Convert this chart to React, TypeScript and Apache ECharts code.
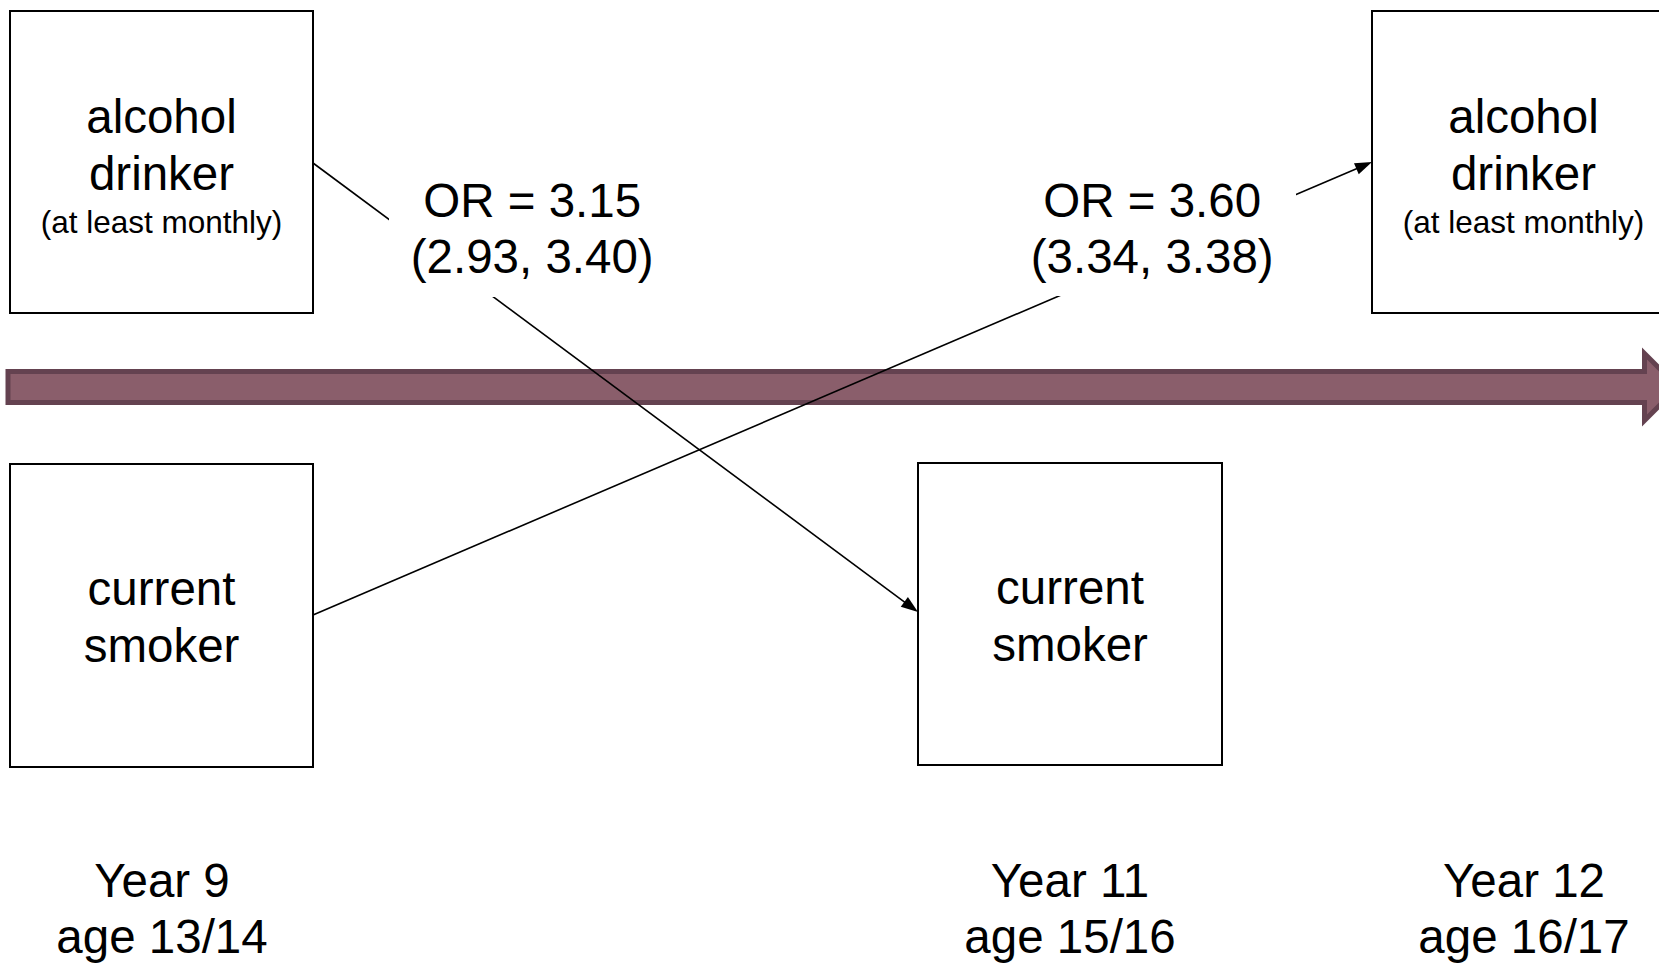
import React, { useEffect, useRef } from "react";
import * as echarts from "echarts";

// ---- content ----
const boxTitles = [
  ["alcohol", "drinker"],
  ["current", "smoker"],
  ["current", "smoker"],
  ["alcohol", "drinker"],
];
const boxNotes = ["(at least monthly)", "", "", "(at least monthly)"];
const oddsRatios = ["OR = 3.15", "OR = 3.60"];
const confIntervals = ["(2.93, 3.40)", "(3.34, 3.38)"];
const waveLabels = ["Year 9", "Year 11", "Year 12"];
const ageLabels = ["age 13/14", "age 15/16", "age 16/17"];

// ---- layout (diagram units = pixels of the 1659x963 canvas) ----
const W = 1659;
const H = 963;
const boxRects = [
  [10, 11, 313, 313],
  [10, 464, 313, 767],
  [918, 463, 1222, 765],
  [1372, 11, 1675, 313],
];
const arrowPaths = [
  [313, 163, 918, 612],
  [313, 615, 1372, 162],
];
const orBoxes = [
  [389, 162, 675, 297],
  [1008, 162, 1296, 296],
];
const waveX = [162, 1070, 1524];
const band = { x0: 8, y0: 371.5, y1: 402.5, headX: 1644.5, headY0: 353.5, headY1: 420.5, tipX: 1678 };

const FONT = '"Liberation Sans", Arial, Helvetica, sans-serif';
const BIG = 47.5;
const SMALL = 31.5;

type T = { x: number; y: number; text: string; size: number };
const texts: T[] = [];
boxRects.forEach((r, i) => {
  const cx = (r[0] + r[2]) / 2;
  const cy = (r[1] + r[3]) / 2;
  if (boxNotes[i]) {
    texts.push({ x: cx, y: cy - 45.3, text: boxTitles[i][0], size: BIG });
    texts.push({ x: cx, y: cy + 11.7, text: boxTitles[i][1], size: BIG });
    texts.push({ x: cx, y: cy + 59.6, text: boxNotes[i], size: SMALL });
  } else {
    texts.push({ x: cx, y: cy - 27, text: boxTitles[i][0], size: BIG });
    texts.push({ x: cx, y: cy + 30, text: boxTitles[i][1], size: BIG });
  }
});
orBoxes.forEach((r, i) => {
  const cx = (r[0] + r[2]) / 2 + 0.2;
  texts.push({ x: cx, y: 200.7, text: oddsRatios[i], size: BIG });
  texts.push({ x: cx, y: 256.7, text: confIntervals[i], size: BIG });
});
waveLabels.forEach((t, i) => {
  texts.push({ x: waveX[i], y: 880.7, text: t, size: BIG });
  texts.push({ x: waveX[i], y: 936.7, text: ageLabels[i], size: BIG });
});

export default function App() {
  const ref = useRef<HTMLDivElement>(null);
  useEffect(() => {
    if (!ref.current) return;
    document.body.style.margin = "0";
    document.body.style.overflow = "hidden";
    const chart = echarts.init(ref.current, undefined, { renderer: "svg" });
    const option: any = {
      animation: false,
      backgroundColor: "#ffffff",
      grid: { left: 0, right: 0, top: 0, bottom: 0 },
      xAxis: { type: "value", min: 0, max: W, show: false },
      yAxis: { type: "value", min: 0, max: H, inverse: true, show: false },
      tooltip: { show: false },
      series: [
        {
          type: "custom",
          name: "timeline",
          z: 1,
          clip: false,
          silent: true,
          data: [[band.x0, band.y0, band.y1, band.headX, band.headY0, band.headY1, band.tipX]],
          renderItem: (params: any, api: any) => {
            const x0 = api.value(0), y0 = api.value(1), y1 = api.value(2);
            const hx = api.value(3), hy0 = api.value(4), hy1 = api.value(5), tx = api.value(6);
            const pts = [
              [x0, y0], [hx, y0], [hx, hy0], [tx, (y0 + y1) / 2], [hx, hy1], [hx, y1], [x0, y1],
            ].map((p) => api.coord(p));
            return {
              type: "polygon",
              shape: { points: pts },
              style: { fill: "#8A5E6B", stroke: "#644250", lineWidth: 5, lineJoin: "miter" },
            };
          },
        },
        {
          type: "custom",
          name: "boxes",
          z: 2,
          clip: false,
          silent: true,
          data: boxRects,
          renderItem: (params: any, api: any) => {
            const a = api.coord([api.value(0), api.value(1)]);
            const b = api.coord([api.value(2), api.value(3)]);
            return {
              type: "rect",
              shape: { x: a[0], y: a[1], width: b[0] - a[0], height: b[1] - a[1] },
              style: { fill: "#ffffff", stroke: "#000000", lineWidth: 2 },
            };
          },
        },
        {
          type: "custom",
          name: "effects",
          z: 3,
          clip: false,
          silent: true,
          data: arrowPaths,
          renderItem: (params: any, api: any) => {
            const a = api.coord([api.value(0), api.value(1)]);
            const b = api.coord([api.value(2), api.value(3)]);
            const dx = b[0] - a[0], dy = b[1] - a[1];
            const len = Math.sqrt(dx * dx + dy * dy);
            const ux = dx / len, uy = dy / len;
            const hl = 17, hw = 6;
            const base = [b[0] - ux * hl, b[1] - uy * hl];
            return {
              type: "group",
              children: [
                {
                  type: "line",
                  shape: { x1: a[0], y1: a[1], x2: base[0] + ux * 2, y2: base[1] + uy * 2 },
                  style: { stroke: "#000000", lineWidth: 1.6 },
                },
                {
                  type: "polygon",
                  shape: {
                    points: [
                      [b[0], b[1]],
                      [base[0] - uy * hw, base[1] + ux * hw],
                      [base[0] + uy * hw, base[1] - ux * hw],
                    ],
                  },
                  style: { fill: "#000000" },
                },
              ],
            };
          },
        },
        {
          type: "custom",
          name: "orMask",
          z: 4,
          clip: false,
          silent: true,
          data: orBoxes,
          renderItem: (params: any, api: any) => {
            const a = api.coord([api.value(0), api.value(1)]);
            const b = api.coord([api.value(2), api.value(3)]);
            return {
              type: "rect",
              shape: { x: a[0], y: a[1], width: b[0] - a[0], height: b[1] - a[1] },
              style: { fill: "#ffffff" },
            };
          },
        },
        {
          type: "custom",
          name: "labels",
          z: 5,
          clip: false,
          silent: true,
          data: texts.map((t) => [t.x, t.y]),
          renderItem: (params: any, api: any) => {
            const t = texts[params.dataIndex];
            const p = api.coord([api.value(0), api.value(1)]);
            return {
              type: "text",
              x: p[0],
              y: p[1],
              style: {
                text: t.text,
                fill: "#000000",
                fontSize: t.size,
                fontFamily: FONT,
                align: "center",
                verticalAlign: "middle",
              },
            };
          },
        },
      ],
    };
    chart.setOption(option);
    return () => chart.dispose();
  }, []);
  return (
    <div style={{ position: "fixed", left: 0, top: 0, width: W, height: H, overflow: "hidden" }}>
      <div ref={ref} style={{ width: W, height: H }} />
    </div>
  );
}
